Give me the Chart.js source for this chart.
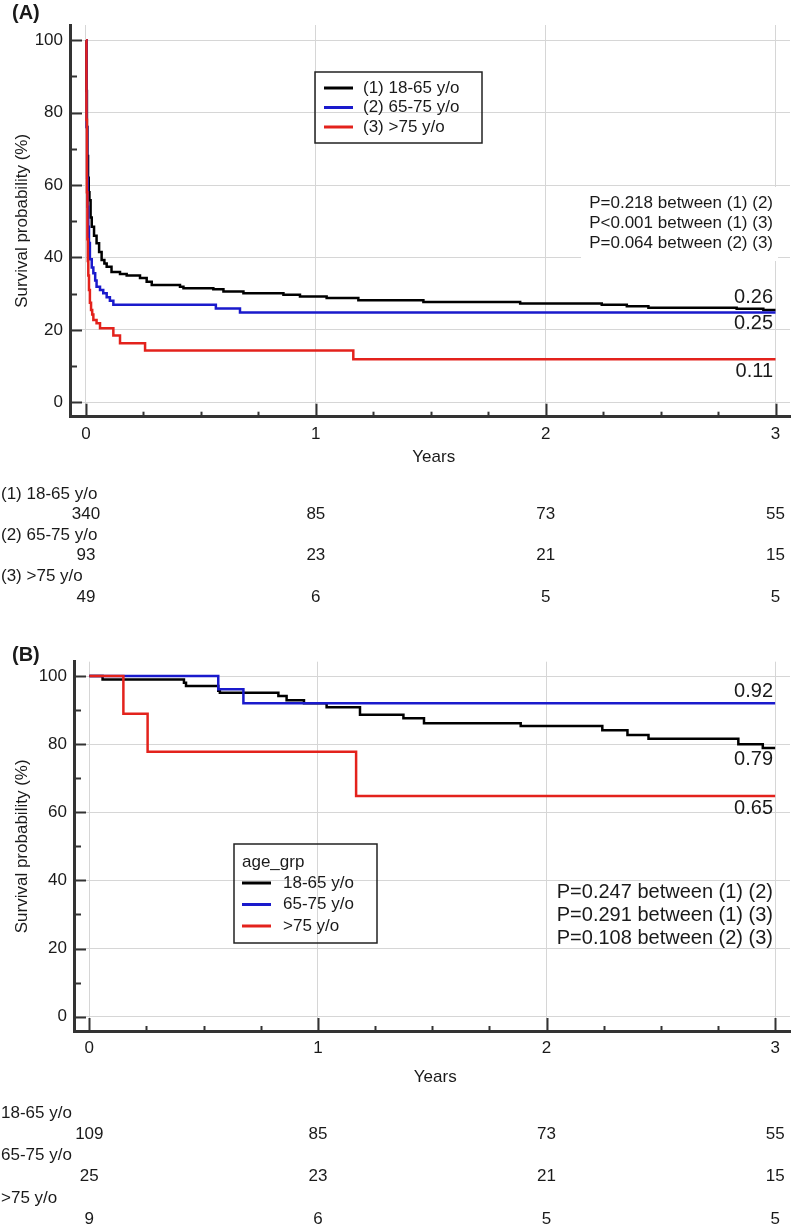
<!DOCTYPE html>
<html>
<head>
<meta charset="utf-8">
<script src="https://cdn.jsdelivr.net/npm/chart.js@4.4.1/dist/chart.umd.min.js"></script>
<style>
  html, body { margin: 0; padding: 0; background: #fff; }
  canvas { display: block; }
</style>
</head>
<body>
<canvas id="chartA" width="797" height="615"></canvas>
<canvas id="chartB" width="797" height="614"></canvas>
<script>
// ---- data ----
const xTicks = [0, 0.25, 0.5, 0.75, 1, 1.25, 1.5, 1.75, 2, 2.25, 2.5, 2.75, 3];
const yTicks = [0, 10, 20, 30, 40, 50, 60, 70, 80, 90, 100];
const riskTimes = [0, 1, 2, 3];

// (A)
const groupsA = ["(1) 18-65 y/o", "(2) 65-75 y/o", "(3) >75 y/o"];
const timeA1 = [0, 0.002, 0.004, 0.006, 0.009, 0.012, 0.015, 0.02, 0.025, 0.035, 0.046, 0.057, 0.068, 0.08, 0.09, 0.111, 0.148, 0.177, 0.235, 0.264, 0.286, 0.409, 0.424, 0.554, 0.598, 0.685, 0.859, 0.931, 1.047, 1.185, 1.468, 1.889, 2.244, 2.353, 2.447, 2.831, 2.947, 3.0];
const survA1 = [100, 86, 76, 68, 62, 58, 55.8, 51, 48.5, 46, 43.9, 41.5, 39.3, 38.3, 37.4, 36.0, 35.4, 35.0, 34.3, 33.3, 32.4, 31.9, 31.5, 31.2, 30.6, 30.1, 29.7, 29.2, 28.8, 28.2, 27.7, 27.3, 26.9, 26.5, 26.1, 25.8, 25.5, 25.5];
const timeA2 = [0, 0.003, 0.005, 0.007, 0.010, 0.013, 0.017, 0.025, 0.032, 0.04, 0.046, 0.061, 0.075, 0.090, 0.104, 0.119, 0.565, 0.670, 3.0];
const survA2 = [100, 76, 62, 54, 48.5, 44, 39.5, 37.2, 35.6, 33.6, 31.9, 31.0, 30.1, 29.0, 28.0, 26.9, 25.9, 24.8, 24.8];
const timeA3 = [0, 0.002, 0.004, 0.006, 0.008, 0.01, 0.013, 0.017, 0.022, 0.027, 0.032, 0.046, 0.061, 0.119, 0.148, 0.257, 1.163, 3.0];
const survA3 = [100, 78, 58, 45, 39, 35, 31, 27.5, 25.5, 24.2, 22.7, 21.8, 20.4, 18.4, 16.3, 14.3, 11.9, 11.9];
const endLabelsA = ["0.26", "0.25", "0.11"];
const pValuesA = ["P=0.218 between (1) (2)", "P<0.001 between (1) (3)", "P=0.064 between (2) (3)"];
const riskA = [[340, 85, 73, 55], [93, 23, 21, 15], [49, 6, 5, 5]];

// (B)
const groupsB = ["18-65 y/o", "65-75 y/o", ">75 y/o"];
const timeB1 = [0, 0.058, 0.414, 0.423, 0.564, 0.571, 0.827, 0.863, 0.939, 1.038, 1.184, 1.374, 1.464, 1.887, 2.244, 2.354, 2.446, 2.839, 2.946, 3.0];
const survB1 = [100, 99.0, 98.0, 97.1, 95.7, 95.1, 94.1, 92.9, 92.0, 90.8, 88.6, 87.6, 86.1, 85.3, 84.1, 82.7, 81.6, 80.0, 78.9, 78.9];
const timeB2 = [0, 0.564, 0.674, 3.0];
const survB2 = [100, 96.1, 92.0, 92.0];
const timeB3 = [0, 0.149, 0.255, 1.167, 3.0];
const survB3 = [100, 88.9, 77.8, 64.8, 64.8];
const endLabelsB = ["0.79", "0.92", "0.65"];
const pValuesB = ["P=0.247 between (1) (2)", "P=0.291 between (1) (3)", "P=0.108 between (2) (3)"];
const riskB = [[109, 85, 73, 55], [25, 23, 21, 15], [9, 6, 5, 5]];

const colors = ["#000000", "#1a1acc", "#e3221c"];
const fontFamily = "'Liberation Sans', Arial, sans-serif";
const textColor = "#1a1a1a";
const axisColor = "#333333";
const gridColor = "#d6d6d6";

Chart.defaults.font.family = fontFamily;
Chart.defaults.color = textColor;

// extra drawing: inward ticks, panel label, legend box, p-values, end labels, risk table
function makeExtras(cfg) {
  return {
    id: "kmExtras",
    beforeDatasetsDraw(chart) {
      if (!cfg.pBox) return;
      const ctx = chart.ctx, b = cfg.pBox;
      ctx.save();
      ctx.fillStyle = "#fff";
      ctx.fillRect(b.x, b.y, b.w, b.h);
      ctx.restore();
    },
    afterDraw(chart) {
      const ctx = chart.ctx, xs = chart.scales.x, ys = chart.scales.y, a = chart.chartArea;
      ctx.save();
      ctx.strokeStyle = axisColor;
      ctx.lineWidth = 2;
      yTicks.forEach(v => {
        const y = Math.round(ys.getPixelForValue(v)) + 0.5;
        const len = v % 20 === 0 ? 12 : 7;
        ctx.beginPath(); ctx.moveTo(a.left, y); ctx.lineTo(a.left + len, y); ctx.stroke();
      });
      xTicks.forEach(v => {
        const x = Math.round(xs.getPixelForValue(v)) + 0.5;
        const len = Number.isInteger(v) ? 13 : 5;
        ctx.beginPath(); ctx.moveTo(x, a.bottom); ctx.lineTo(x, a.bottom - len); ctx.stroke();
      });

      ctx.fillStyle = textColor;
      ctx.textBaseline = "middle";
      ctx.textAlign = "left";
      ctx.font = "bold 20px " + fontFamily;
      ctx.fillText(cfg.panel, 12, cfg.panelY);

      // legend
      const L = cfg.legend;
      ctx.strokeStyle = "#222";
      ctx.lineWidth = 1.5;
      ctx.strokeRect(L.x, L.y, L.w, L.h);
      ctx.font = "17px " + fontFamily;
      if (L.title) ctx.fillText(L.title, L.lineX, L.titleY);
      chart.data.datasets.forEach((ds, i) => {
        const y = L.rowY + i * L.rowStep;
        ctx.strokeStyle = ds.borderColor;
        ctx.lineWidth = 3;
        ctx.beginPath(); ctx.moveTo(L.lineX, y); ctx.lineTo(L.lineX + L.lineW, y); ctx.stroke();
        ctx.fillText(ds.label, L.textX, y);
      });

      // p-values
      ctx.textAlign = "right";
      ctx.font = cfg.pFont + "px " + fontFamily;
      cfg.pvals.forEach((s, i) => ctx.fillText(s, cfg.textRight, cfg.pY + i * cfg.pStep));

      // survival at 3 years
      ctx.font = "20px " + fontFamily;
      chart.data.datasets.forEach((ds, i) => {
        const last = ds.data[ds.data.length - 1];
        ctx.fillText(cfg.endLabels[i], cfg.textRight, ys.getPixelForValue(last.y) + cfg.endDy[i]);
      });

      // x title
      ctx.textAlign = "center";
      ctx.font = "17px " + fontFamily;
      ctx.fillText("Years", (xs.getPixelForValue(0) + xs.getPixelForValue(3)) / 2 + 3, cfg.yearsY);

      // number at risk
      cfg.risk.forEach((row, i) => {
        const y = cfg.riskY + i * cfg.riskStep;
        ctx.textAlign = "left";
        ctx.fillText(cfg.riskLabels[i], 1, y);
        ctx.textAlign = "center";
        row.forEach((n, j) => ctx.fillText(String(n), xs.getPixelForValue(riskTimes[j]), y + cfg.riskNumDy));
      });
      ctx.restore();
    }
  };
}

function kmChart(id, times, survs, labels, geom, extras) {
  return new Chart(document.getElementById(id), {
    type: "line",
    data: {
      datasets: times.map((t, i) => ({
        label: labels[i],
        data: t.map((x, k) => ({ x: x, y: survs[i][k] })),
        borderColor: colors[i],
        borderWidth: 2.5,
        stepped: "before",
        pointRadius: 0,
        fill: false,
        order: 3 - i
      }))
    },
    options: {
      responsive: false,
      animation: false,
      layout: { padding: { left: 0, right: 797 - geom.right, top: geom.top, bottom: 0 } },
      plugins: { legend: { display: false }, tooltip: { enabled: false } },
      scales: {
        x: {
          type: "linear",
          min: geom.xMin,
          max: geom.xMax,
          afterBuildTicks: s => { s.ticks = xTicks.map(v => ({ value: v })); },
          afterFit: s => { s.height = geom.h - geom.bottom; },
          grid: { color: c => (c.tick && Number.isInteger(c.tick.value)) ? gridColor : "rgba(0,0,0,0)", drawTicks: false },
          border: { color: axisColor, width: 3 },
          ticks: { autoSkip: false, maxRotation: 0, padding: 7, font: { size: 17 }, color: textColor,
                   callback: v => Number.isInteger(v) ? v : "" }
        },
        y: {
          type: "linear",
          min: geom.yMin,
          max: geom.yMax,
          afterBuildTicks: s => { s.ticks = yTicks.map(v => ({ value: v })); },
          afterFit: s => { s.width = geom.left; },
          grid: { color: c => (c.tick && c.tick.value % 20 === 0) ? gridColor : "rgba(0,0,0,0)", drawTicks: false },
          border: { color: axisColor, width: 3 },
          ticks: { autoSkip: false, padding: 7, font: { size: 17 }, color: textColor,
                   callback: v => v % 20 === 0 ? v : "" },
          title: { display: true, text: "Survival probability (%)", font: { size: 17 }, color: textColor,
                   padding: { top: 12, bottom: 0 } }
        }
      }
    },
    plugins: [makeExtras(extras)]
  });
}

kmChart("chartA", [timeA1, timeA2, timeA3], [survA1, survA2, survA3], groupsA,
  { left: 70, right: 790, top: 25, bottom: 416.7, h: 615, xMin: -0.0696, xMax: 3.063, yMin: -4, yMax: 104.2 },
  {
    panel: "(A)", panelY: 13,
    legend: { x: 315, y: 72, w: 167, h: 71, lineX: 324, lineW: 29, textX: 363, rowY: 88, rowStep: 19.5 },
    pvals: pValuesA, pFont: 17, pY: 203, pStep: 20, textRight: 773,
    pBox: { x: 581, y: 187, w: 197, h: 74 },
    endLabels: endLabelsA, endDy: [-12, 11, 12.5],
    yearsY: 457,
    risk: riskA, riskLabels: groupsA, riskY: 494, riskStep: 41.3, riskNumDy: 20.3
  });

kmChart("chartB", [timeB1, timeB2, timeB3], [survB1, survB2, survB3], groupsB,
  { left: 74, right: 790, top: 46.7, bottom: 416, h: 614, xMin: -0.067, xMax: 3.065, yMin: -4.2, yMax: 104.2 },
  {
    panel: "(B)", panelY: 40,
    legend: { x: 234, y: 229, w: 143, h: 99, title: "age_grp", titleY: 247, lineX: 242, lineW: 29, textX: 283, rowY: 268, rowStep: 21.5 },
    pvals: pValuesB, pFont: 20, pY: 277, pStep: 23, textRight: 773,
    pBox: null,
    endLabels: endLabelsB, endDy: [12, -12, 13],
    yearsY: 462,
    risk: riskB, riskLabels: groupsB, riskY: 498.3, riskStep: 42.5, riskNumDy: 21
  });
</script>
</body>
</html>
